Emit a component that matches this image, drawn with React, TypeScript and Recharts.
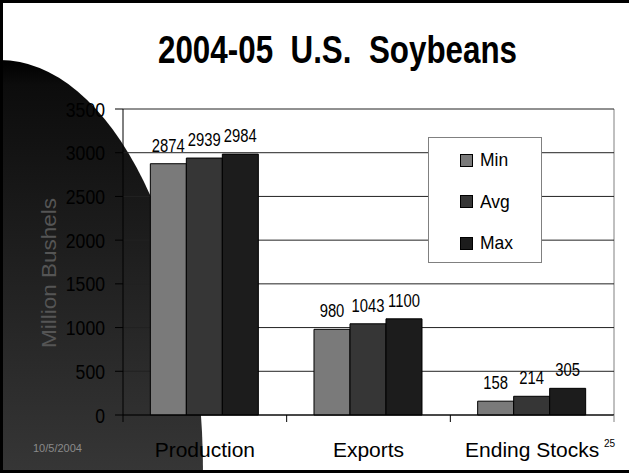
import React from 'react';
import { BarChart, Bar, XAxis, YAxis, CartesianGrid, LabelList } from 'recharts';

const categories = ['Production', 'Exports', 'Ending Stocks'];
const minValues = [2874, 980, 158];
const avgValues = [2939, 1043, 214];
const maxValues = [2984, 1100, 305];
const seriesNames = ['Min', 'Avg', 'Max'];
const seriesColors = ['#7a7a7a', '#363636', '#1c1c1c'];
const yTicks = [0, 500, 1000, 1500, 2000, 2500, 3000, 3500];

const data = categories.map((name, i) => ({
  name,
  Min: minValues[i],
  Avg: avgValues[i],
  Max: maxValues[i],
}));

const W = 629;
const H = 473;
// plot box (layout only)
const PLOT = { left: 123, top: 109, right: 614, bottom: 415 };
const SANS = "'Liberation Sans', Arial, sans-serif";

// Arial Narrow is not installed: squeeze Liberation Sans horizontally
const NText = ({ x, y, sx = 0.82, anchor = 'middle', size, weight = 'normal', fill = '#000', dy = 0, children }: any) => (
  <text
    transform={`translate(${x},${y}) scale(${sx},1)`}
    x={0}
    y={0}
    dy={dy}
    textAnchor={anchor}
    fontSize={size}
    fontWeight={weight}
    fontFamily={SANS}
    fill={fill}
    style={{ whiteSpace: 'pre' }}
  >
    {children}
  </text>
);

const CategoryTick = (props: any) => {
  const { x, payload, index } = props;
  const band = (PLOT.right - PLOT.left) / categories.length;
  return (
    <g>
      <line x1={x - band / 2} y1={PLOT.bottom} x2={x - band / 2} y2={PLOT.bottom + 7} stroke="#000" />
      {index === categories.length - 1 && (
        <line x1={x + band / 2} y1={PLOT.bottom} x2={x + band / 2} y2={PLOT.bottom + 7} stroke="#808080" />
      )}
      <text x={x} y={457} textAnchor="middle" fontSize={21} fontFamily={SANS} fill="#000">
        {payload.value}
      </text>
    </g>
  );
};

const ValueTick = (props: any) => {
  const { x, y, payload } = props;
  return <NText x={x} y={y} anchor="end" size={21} sx={0.84} dy="0.36em">{payload.value}</NText>;
};

const BarLabel = (props: any) => {
  const { x, y, width, value } = props;
  return <NText x={x + width / 2} y={y - 12} size={19} sx={0.78}>{value}</NText>;
};

const LegendBox = () => (
  <div
    style={{
      position: 'absolute',
      left: 428,
      top: 137,
      width: 112,
      height: 124,
      border: '1px solid #808080',
      background: '#fff',
      fontFamily: SANS,
    }}
  >
    {seriesNames.map((s, i) => (
      <div
        key={s}
        style={{
          position: 'absolute',
          left: 31,
          top: 22 + i * 41.5 - 11,
          height: 22,
          display: 'flex',
          alignItems: 'center',
        }}
      >
        <span
          style={{
            display: 'inline-block',
            width: 11,
            height: 11,
            background: seriesColors[i],
            border: '1px solid #000',
            marginRight: 7,
          }}
        />
        <span style={{ fontSize: 19, color: '#000', transform: 'scaleX(0.92)', transformOrigin: 'left center' }}>{s}</span>
      </div>
    ))}
  </div>
);

export default function App() {
  return (
    <div style={{ position: 'absolute', left: 0, top: 0, width: W, height: H, background: '#fff', overflow: 'hidden' }}>
      <svg width={W} height={H} style={{ position: 'absolute', left: 0, top: 0 }}>
        <defs>
          <linearGradient id="shade" gradientUnits="userSpaceOnUse" x1="0" y1="60" x2="0" y2={H}>
            <stop offset="0%" stopColor="#000" />
            <stop offset="6%" stopColor="#0c0c0c" />
            <stop offset="100%" stopColor="#363636" />
          </linearGradient>
        </defs>
        <ellipse cx={0} cy={H} rx={203} ry={413} fill="url(#shade)" />
        <text
          x={158}
          y={63}
          textLength={359}
          lengthAdjust="spacingAndGlyphs"
          fontSize={38}
          fontWeight="bold"
          fontFamily={SANS}
          fill="#000"
          style={{ whiteSpace: 'pre' }}
        >
          {'2004-05  U.S.  Soybeans'}
        </text>
        <line x1={PLOT.right} y1={PLOT.top} x2={PLOT.right} y2={PLOT.bottom} stroke="#808080" />
      </svg>
      <div style={{ position: 'absolute', left: 0, top: 0 }}>
        <BarChart
          width={W}
          height={H}
          data={data}
          margin={{ top: PLOT.top, right: W - PLOT.right, bottom: 0, left: 0 }}
          barCategoryGap="16.7%"
          barGap={0}
        >
          <CartesianGrid vertical={false} stroke="#222" />
          <XAxis
            dataKey="name"
            height={H - PLOT.bottom}
            axisLine={{ stroke: '#000' }}
            tickLine={false}
            interval={0}
            tick={<CategoryTick />}
          />
          <YAxis
            width={PLOT.left}
            domain={[0, 3500]}
            ticks={yTicks}
            interval={0}
            axisLine={{ stroke: '#000' }}
            tickLine={{ stroke: '#000' }}
            tickSize={8}
            tickMargin={10}
            tick={<ValueTick />}
          />
          {seriesNames.map((s, i) => (
            <Bar key={s} dataKey={s} fill={seriesColors[i]} stroke="#000" strokeWidth={1} isAnimationActive={false}>
              <LabelList dataKey={s} content={<BarLabel />} />
            </Bar>
          ))}
        </BarChart>
      </div>
      <LegendBox />
      <svg width={W} height={H} style={{ position: 'absolute', left: 0, top: 0, pointerEvents: 'none' }}>
        <text
          x={50}
          y={273}
          transform="rotate(-90 50 273)"
          textAnchor="middle"
          dominantBaseline="middle"
          fontSize={21}
          textLength={150}
          lengthAdjust="spacingAndGlyphs"
          fontFamily={SANS}
          fill="#555"
        >
          Million Bushels
        </text>
        <text x={33} y={452} fontSize={11} fontFamily={SANS} fill="#8a8a8a">
          10/5/2004
        </text>
        <text x={604} y={447} fontSize={10} fontFamily={SANS} fill="#000">
          25
        </text>
        <rect x={1.5} y={1.5} width={W + 2} height={H - 3} fill="none" stroke="#000" strokeWidth={3} />
      </svg>
    </div>
  );
}
